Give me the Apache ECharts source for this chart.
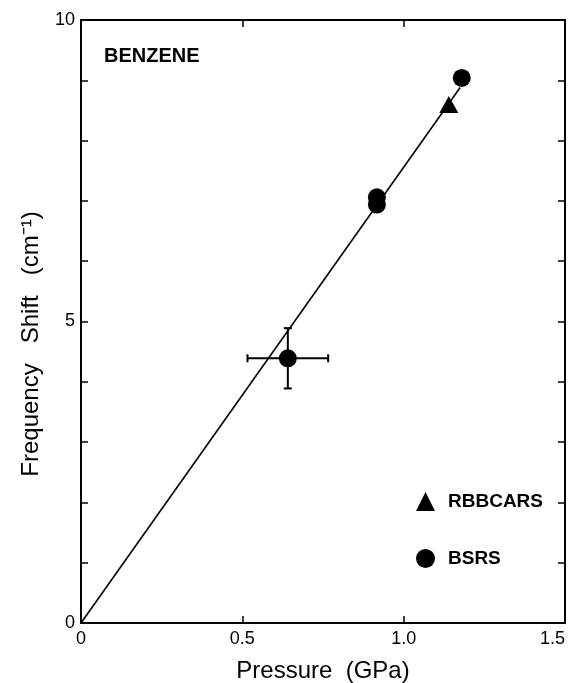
<!DOCTYPE html>
<html><head><meta charset="utf-8">
<script src="https://cdn.jsdelivr.net/npm/echarts@6/dist/echarts.min.js"></script>
<style>html,body{margin:0;padding:0;background:#fff}#c{width:573px;height:683px}</style>
</head><body><div id="c"></div>
<script>
var xTicks = [0, 0.5, 1.0, 1.5];
var yTicks = [0, 5, 10];
var bsrsData = [[0.641, 4.39], [0.917, 7.06], [0.917, 6.94], [1.18, 9.04]];
var rbbcarsData = [[1.14, 8.6]];
var fitLine = [[0, 0], [1.175, 8.88]];
var errorBars = [[0.641, 4.39, 0.125, 0.5]]; // x, y, xErr, yErr

var font = 'Liberation Sans, Arial, sans-serif';
var chart = echarts.init(document.getElementById('c'));
var axisLineStyle = {color: '#000', width: 2};
var tickStyle = {inside: true, length: 7, lineStyle: {color: '#000', width: 1.5}};
chart.setOption({
  animation: false,
  backgroundColor: '#fff',
  grid: {left: 81, right: 8, top: 20, bottom: 60, containLabel: false, outerBoundsMode: 'none'},
  title: {text: 'BENZENE', left: 99, top: 41, textStyle: {fontFamily: font, fontSize: 20, fontWeight: 'bold', color: '#000'}},
  graphic: [{
    type: 'text', x: 31, y: 344, rotation: Math.PI / 2,
    style: {text: 'Frequency   Shift   (cm\u207B\u00B9)', font: '24px ' + font, fill: '#000', align: 'center', verticalAlign: 'middle'}
  }],
  legend: {
    orient: 'vertical', left: 416, top: 492, itemGap: 38, itemWidth: 19, itemHeight: 19, padding: 0,
    data: [{name: 'RBBCARS', icon: 'triangle'}, {name: 'BSRS', icon: 'circle'}],
    textStyle: {fontFamily: font, fontSize: 19, fontWeight: 'bold', color: '#000', padding: [0, 0, 0, 8]}
  },
  xAxis: [{
    type: 'value', min: xTicks[0], max: xTicks[xTicks.length - 1], interval: 0.5,
    name: 'Pressure  (GPa)', nameLocation: 'middle', nameGap: 36,
    nameTextStyle: {fontFamily: font, fontSize: 24, color: '#000'},
    axisLine: {onZero: false, lineStyle: axisLineStyle}, splitLine: {show: false},
    axisTick: tickStyle,
    axisLabel: {fontFamily: font, fontSize: 18, color: '#000', margin: 7, alignMaxLabel: 'right',
      formatter: function (v) { return v === 0 ? '0' : v.toFixed(1); }}
  }, {
    type: 'value', position: 'top', min: 0, max: 1.5, interval: 0.5,
    axisLine: {onZero: false, lineStyle: axisLineStyle}, splitLine: {show: false},
    axisTick: tickStyle, axisLabel: {show: false}
  }],
  yAxis: [{
    type: 'value', min: yTicks[0], max: yTicks[yTicks.length - 1], interval: 1,
    axisLine: {onZero: false, lineStyle: axisLineStyle}, splitLine: {show: false},
    axisTick: tickStyle,
    axisLabel: {fontFamily: font, fontSize: 18, color: '#000', margin: 6,
      formatter: function (v) { return yTicks.indexOf(v) >= 0 ? String(v) : ''; }}
  }, {
    type: 'value', position: 'right', min: 0, max: 10, interval: 1,
    axisLine: {onZero: false, lineStyle: axisLineStyle}, splitLine: {show: false},
    axisTick: tickStyle, axisLabel: {show: false}
  }],
  series: [{
    type: 'line', data: fitLine, showSymbol: false, symbol: 'none',
    lineStyle: {color: '#000', width: 1.6}, silent: true, z: 1
  }, {
    type: 'custom', data: errorBars, z: 2, silent: true,
    renderItem: function (params, api) {
      var x = api.value(0), y = api.value(1), ex = api.value(2), ey = api.value(3);
      var l = api.coord([x - ex, y]), r = api.coord([x + ex, y]);
      var t = api.coord([x, y + ey]), b = api.coord([x, y - ey]);
      var st = {stroke: '#000', lineWidth: 2};
      var cap = 4;
      return {type: 'group', children: [
        {type: 'line', shape: {x1: l[0], y1: l[1], x2: r[0], y2: r[1]}, style: st},
        {type: 'line', shape: {x1: t[0], y1: t[1], x2: b[0], y2: b[1]}, style: st},
        {type: 'line', shape: {x1: l[0], y1: l[1] - cap, x2: l[0], y2: l[1] + cap}, style: st},
        {type: 'line', shape: {x1: r[0], y1: r[1] - cap, x2: r[0], y2: r[1] + cap}, style: st},
        {type: 'line', shape: {x1: t[0] - cap, y1: t[1], x2: t[0] + cap, y2: t[1]}, style: st},
        {type: 'line', shape: {x1: b[0] - cap, y1: b[1], x2: b[0] + cap, y2: b[1]}, style: st}
      ]};
    }
  }, {
    name: 'BSRS', type: 'scatter', data: bsrsData, symbol: 'circle', symbolSize: 18,
    itemStyle: {color: '#000', opacity: 1}, z: 3
  }, {
    name: 'RBBCARS', type: 'scatter', data: rbbcarsData, symbol: 'triangle', symbolSize: [19, 17],
    itemStyle: {color: '#000', opacity: 1}, z: 3
  }]
});
</script></body></html>
